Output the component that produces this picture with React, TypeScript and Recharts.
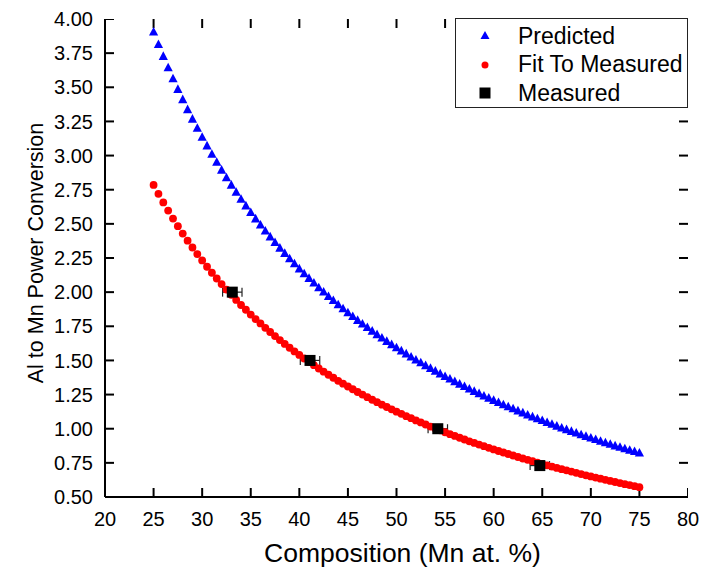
import React from 'react';
import { ScatterChart, Scatter, XAxis, YAxis, Legend, ErrorBar } from 'recharts';

const compositions = [
  25, 25.5, 26, 26.5, 27, 27.5, 28, 28.5, 29, 29.5,
  30, 30.5, 31, 31.5, 32, 32.5, 33, 33.5, 34, 34.5,
  35, 35.5, 36, 36.5, 37, 37.5, 38, 38.5, 39, 39.5,
  40, 40.5, 41, 41.5, 42, 42.5, 43, 43.5, 44, 44.5,
  45, 45.5, 46, 46.5, 47, 47.5, 48, 48.5, 49, 49.5,
  50, 50.5, 51, 51.5, 52, 52.5, 53, 53.5, 54, 54.5,
  55, 55.5, 56, 56.5, 57, 57.5, 58, 58.5, 59, 59.5,
  60, 60.5, 61, 61.5, 62, 62.5, 63, 63.5, 64, 64.5,
  65, 65.5, 66, 66.5, 67, 67.5, 68, 68.5, 69, 69.5,
  70, 70.5, 71, 71.5, 72, 72.5, 73, 73.5, 74, 74.5,
  75,
];

const predicted = [
  3.905, 3.814, 3.727, 3.643, 3.563, 3.485, 3.41, 3.337, 3.267, 3.2,
  3.134, 3.071, 3.01, 2.951, 2.894, 2.838, 2.784, 2.732, 2.681, 2.632,
  2.584, 2.537, 2.492, 2.448, 2.405, 2.364, 2.323, 2.284, 2.245, 2.208,
  2.171, 2.135, 2.101, 2.067, 2.033, 2.001, 1.969, 1.939, 1.908, 1.879,
  1.85, 1.822, 1.794, 1.767, 1.741, 1.715, 1.689, 1.665, 1.64, 1.616,
  1.593, 1.57, 1.548, 1.526, 1.504, 1.483, 1.462, 1.442, 1.422, 1.402,
  1.383, 1.364, 1.345, 1.327, 1.309, 1.291, 1.274, 1.257, 1.24, 1.224,
  1.208, 1.192, 1.176, 1.161, 1.146, 1.131, 1.116, 1.101, 1.087, 1.073,
  1.06, 1.046, 1.033, 1.019, 1.006, 0.994, 0.981, 0.969, 0.956, 0.944,
  0.932, 0.921, 0.909, 0.898, 0.887, 0.875, 0.865, 0.854, 0.843, 0.833,
  0.822,
];

const fitToMeasured = [
  2.785, 2.72, 2.657, 2.597, 2.539, 2.483, 2.429, 2.377, 2.327, 2.279,
  2.232, 2.186, 2.142, 2.1, 2.059, 2.019, 1.98, 1.943, 1.906, 1.871,
  1.836, 1.803, 1.771, 1.739, 1.708, 1.678, 1.649, 1.621, 1.593, 1.566,
  1.54, 1.514, 1.489, 1.465, 1.441, 1.418, 1.395, 1.373, 1.351, 1.33,
  1.309, 1.289, 1.269, 1.25, 1.231, 1.212, 1.194, 1.176, 1.159, 1.142,
  1.125, 1.109, 1.092, 1.077, 1.061, 1.046, 1.031, 1.016, 1.002, 0.988,
  0.974, 0.96, 0.947, 0.934, 0.921, 0.908, 0.896, 0.884, 0.872, 0.86,
  0.848, 0.837, 0.826, 0.815, 0.804, 0.793, 0.782, 0.772, 0.762, 0.752,
  0.742, 0.732, 0.723, 0.713, 0.704, 0.695, 0.686, 0.677, 0.668, 0.659,
  0.651, 0.642, 0.634, 0.626, 0.618, 0.61, 0.602, 0.594, 0.587, 0.579,
  0.572,
];

const measuredComposition = [33.1, 41.1, 54.25, 64.75];
const measuredRatio = [2.0, 1.5, 1.0, 0.73];
const measuredError = [1.0, 1.0, 1.0, 1.0];

const xTicks = [20, 25, 30, 35, 40, 45, 50, 55, 60, 65, 70, 75, 80];
const yTicks = [0.5, 0.75, 1.0, 1.25, 1.5, 1.75, 2.0, 2.25, 2.5, 2.75, 3.0, 3.25, 3.5, 3.75, 4.0];

const legendItems = [
  { name: 'Predicted', color: '#0000ff', shape: 'triangle' },
  { name: 'Fit To Measured', color: '#ff0000', shape: 'circle' },
  { name: 'Measured', color: '#000000', shape: 'square' },
];

const X_MIN = 20, X_MAX = 80, Y_MIN = 0.5, Y_MAX = 4;

const predictedData = compositions.map((x, i) => ({ x, y: predicted[i] }));
const fitData = compositions.map((x, i) => ({ x, y: fitToMeasured[i] }));
const measuredData = measuredComposition.map((x, i) => ({ x, y: measuredRatio[i], ex: measuredError[i] }));

// anchor points for the inward tick marks on each side of the frame
const bottomTickData = xTicks.map((x) => ({ x, y: Y_MIN }));
const topTickData = xTicks.map((x) => ({ x, y: Y_MAX }));
const leftTickData = yTicks.map((y) => ({ x: X_MIN, y }));
const rightTickData = yTicks.map((y) => ({ x: X_MAX, y }));

const FONT = '"Liberation Sans", Arial, sans-serif';
const TL = 9;
const AXIS_STYLE = { stroke: '#000', strokeWidth: 2 };

const Triangle = (props: any) => {
  const { cx, cy } = props;
  if (cx == null || cy == null) return null;
  return <polygon points={`${cx},${cy - 5} ${cx - 4.6},${cy + 3.6} ${cx + 4.6},${cy + 3.6}`} fill="#0000ff" />;
};
const Dot = (props: any) => {
  const { cx, cy } = props;
  if (cx == null || cy == null) return null;
  return <circle cx={cx} cy={cy} r={3.9} fill="#ff0000" />;
};
const Square = (props: any) => {
  const { cx, cy } = props;
  if (cx == null || cy == null) return null;
  return <rect x={cx - 5.5} y={cy - 5.5} width={11} height={11} fill="#000000" />;
};

const makeTickShape = (dx: number, dy: number) => (props: any) => {
  const { cx, cy } = props;
  if (cx == null || cy == null) return <g />;
  return <line x1={cx} y1={cy} x2={cx + dx} y2={cy + dy} stroke="#000" strokeWidth={2} />;
};
const BottomMark = makeTickShape(0, -TL);
const TopMark = makeTickShape(0, TL);
const LeftMark = makeTickShape(TL, 0);
const RightMark = makeTickShape(-TL, 0);

const BottomTick = (props: any) => {
  const { x, y, payload } = props;
  return (
    <text x={x} y={y + 29} textAnchor="middle" fontSize={20} fontFamily={FONT} fill="#000">
      {payload.value}
    </text>
  );
};
const EmptyTick = () => <g />;
const LeftTick = (props: any) => {
  const { x, y, payload } = props;
  return (
    <text x={x - 12} y={y} dy="0.36em" textAnchor="end" fontSize={20} fontFamily={FONT} fill="#000">
      {Number(payload.value).toFixed(2)}
    </text>
  );
};

const LegendMarker = ({ shape, color }: { shape: string; color: string }) => {
  if (shape === 'triangle') return <polygon points="7,2 2.5,10 11.5,10" fill={color} />;
  if (shape === 'circle') return <circle cx={7} cy={7} r={3.5} fill={color} />;
  return <rect x={1.5} y={1.5} width={11} height={11} fill={color} />;
};

const renderLegend = () => (
  <div
    style={{
      width: 233,
      height: 90,
      boxSizing: 'border-box',
      border: '1px solid #222',
      background: '#fff',
      fontFamily: FONT,
      fontSize: 23,
      paddingTop: 3,
      whiteSpace: 'nowrap',
    }}
  >
    {legendItems.map((it) => (
      <div key={it.name} style={{ display: 'flex', alignItems: 'center', height: 28.5 }}>
        <svg width={14} height={14} style={{ marginLeft: 22, marginRight: 26, flex: 'none' }}>
          <LegendMarker shape={it.shape} color={it.color} />
        </svg>
        <span style={{ color: '#000' }}>{it.name}</span>
      </div>
    ))}
  </div>
);

const YLabel = (props: any) => {
  const { viewBox } = props;
  const cx = viewBox.x + 36;
  const cy = viewBox.y + viewBox.height / 2 - 5;
  return (
    <text
      x={cx}
      y={cy}
      transform={`rotate(-90, ${cx}, ${cy})`}
      textAnchor="middle"
      dominantBaseline="central"
      fontSize={21.5}
      fontFamily={FONT}
      fill="#000"
    >
      Al to Mn Power Conversion
    </text>
  );
};

const XLabel = (props: any) => {
  const { viewBox } = props;
  const cx = viewBox.x + viewBox.width / 2 + 6;
  const cy = viewBox.y + 56;
  return (
    <text x={cx} y={cy} textAnchor="middle" dominantBaseline="central" fontSize={26.5} fontFamily={FONT} fill="#000">
      Composition (Mn at. %)
    </text>
  );
};

export default function App() {
  return (
    <div style={{ position: 'absolute', left: 0, top: 0, width: 715, height: 574, background: '#fff' }}>
      <ScatterChart width={715} height={574} margin={{ top: 19, right: 27, bottom: 0, left: 0 }}>
        <XAxis
          xAxisId="b"
          type="number"
          dataKey="x"
          domain={[X_MIN, X_MAX]}
          ticks={xTicks}
          interval={0}
          allowDataOverflow
          height={77}
          tickSize={0}
          tickMargin={0}
          tickLine={false}
          axisLine={AXIS_STYLE}
          tick={<BottomTick />}
          label={<XLabel />}
        />
        <XAxis
          xAxisId="t"
          orientation="top"
          type="number"
          dataKey="x"
          domain={[X_MIN, X_MAX]}
          ticks={xTicks}
          interval={0}
          allowDataOverflow
          height={0}
          tickSize={0}
          tickMargin={0}
          tickLine={false}
          axisLine={AXIS_STYLE}
          tick={<EmptyTick />}
        />
        <YAxis
          yAxisId="l"
          type="number"
          dataKey="y"
          domain={[Y_MIN, Y_MAX]}
          ticks={yTicks}
          interval={0}
          allowDataOverflow
          width={105}
          tickSize={0}
          tickMargin={0}
          tickLine={false}
          axisLine={AXIS_STYLE}
          tick={<LeftTick />}
          label={<YLabel />}
        />
        <YAxis
          yAxisId="r"
          orientation="right"
          type="number"
          dataKey="y"
          domain={[Y_MIN, Y_MAX]}
          ticks={yTicks}
          interval={0}
          allowDataOverflow
          width={0}
          tickSize={0}
          tickMargin={0}
          tickLine={false}
          axisLine={AXIS_STYLE}
          tick={<EmptyTick />}
        />
        <Scatter name="tb" data={bottomTickData} xAxisId="b" yAxisId="l" shape={<BottomMark />} legendType="none" isAnimationActive={false} />
        <Scatter name="tt" data={topTickData} xAxisId="b" yAxisId="l" shape={<TopMark />} legendType="none" isAnimationActive={false} />
        <Scatter name="tl" data={leftTickData} xAxisId="b" yAxisId="l" shape={<LeftMark />} legendType="none" isAnimationActive={false} />
        <Scatter name="tr" data={rightTickData} xAxisId="b" yAxisId="l" shape={<RightMark />} legendType="none" isAnimationActive={false} />
        <Scatter
          name="Predicted"
          data={predictedData}
          xAxisId="b"
          yAxisId="l"
          fill="#0000ff"
          shape={<Triangle />}
          isAnimationActive={false}
        />
        <Scatter
          name="Fit To Measured"
          data={fitData}
          xAxisId="b"
          yAxisId="l"
          fill="#ff0000"
          shape={<Dot />}
          isAnimationActive={false}
        />
        <Scatter
          name="Measured"
          data={measuredData}
          xAxisId="b"
          yAxisId="l"
          fill="#000000"
          shape={<Square />}
          isAnimationActive={false}
        >
          <ErrorBar dataKey="ex" direction="x" width={4.5} stroke="#222" strokeWidth={1.2} isAnimationActive={false} />
        </Scatter>
        <Legend
          layout="vertical"
          align="center"
          verticalAlign="middle"
          content={renderLegend}
          wrapperStyle={{ position: 'absolute', top: 18, left: 455, width: 233, height: 90 }}
        />
      </ScatterChart>
    </div>
  );
}
